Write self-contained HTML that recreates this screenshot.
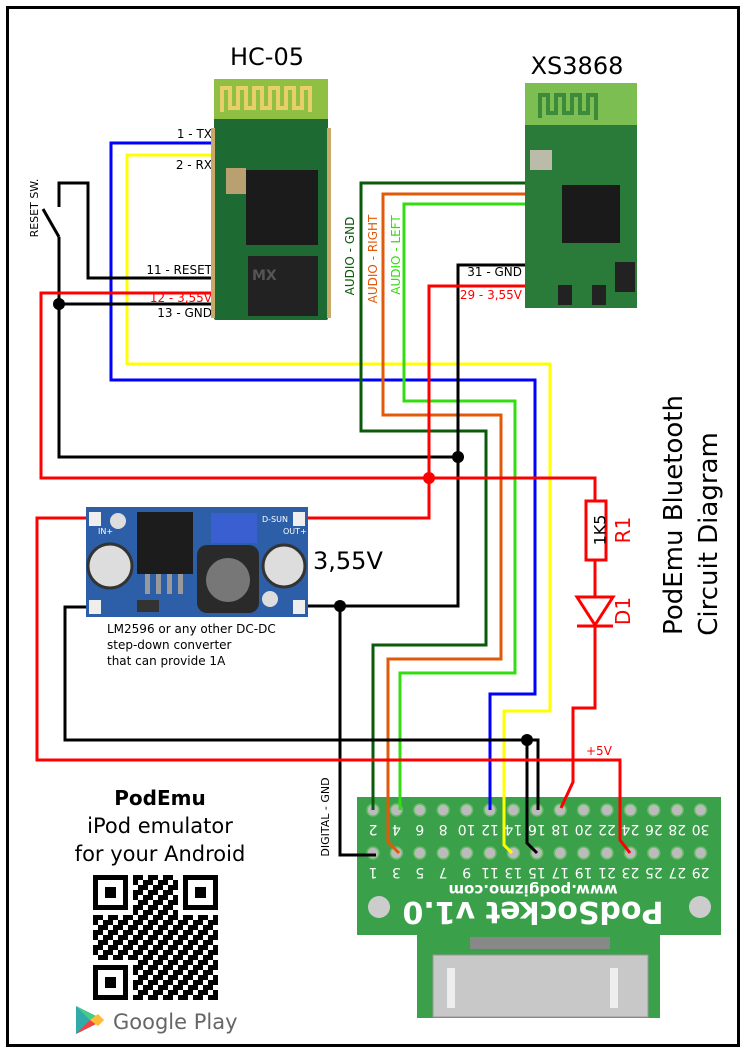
<!DOCTYPE html>
<html><head><meta charset="utf-8"><style>
html,body{margin:0;padding:0;background:#fff}
svg{display:block}
text{font-family:"DejaVu Sans","Liberation Sans",sans-serif}
</style></head><body>
<svg width="744" height="1052" viewBox="0 0 744 1052" xmlns="http://www.w3.org/2000/svg">
<defs>
<pattern id="qr" x="93" y="875" width="15" height="15" patternUnits="userSpaceOnUse">
<rect x="0" y="0" width="5" height="5" fill="#000"/><rect x="10" y="0" width="5" height="10" fill="#000"/>
<rect x="5" y="5" width="5" height="5" fill="#000"/><rect x="0" y="10" width="10" height="5" fill="#000"/>
</pattern>
</defs>
<rect x="7.5" y="7.5" width="731" height="1038" fill="#fff" stroke="#000" stroke-width="3"/>

<text x="267" y="65" font-size="24" text-anchor="middle">HC-05</text>
<text x="577" y="74" font-size="24" text-anchor="middle">XS3868</text>

<g fill="none" stroke-width="3" stroke-linejoin="miter">
<polyline points="214,143 111,143 111,380 535,380 535,694 490,694 490,810" stroke="#0000ff"/>
<polyline points="214,155 127,155 127,364 550,364 550,711 504,711 504,845 512,853" stroke="#ffff00"/>
<polyline points="525,183 361,183 361,431 486,431 486,645 373,645 373,810" stroke="#0a5a0a"/>
<polyline points="525,194 383,194 383,415 501,415 501,659 388,659 388,842 399,853" stroke="#e05a0a"/>
<polyline points="525,204 404,204 404,401 515,401 515,673 400,673 400,810" stroke="#33dd11"/>
<polyline points="59,207 59,183 88,183 88,278 214,278" stroke="#000"/>
<line x1="43" y1="209" x2="59" y2="237" stroke="#000"/>
<polyline points="59,237 59,457 458,457" stroke="#000"/>
<line x1="59" y1="304" x2="214" y2="304" stroke="#000"/>
<polyline points="525,265 458,265 458,606 300,606" stroke="#000"/>
<polyline points="340,606 340,855 376,855" stroke="#000"/>
<polyline points="96,607 65,607 65,740 538,740 538,810" stroke="#000"/>
<polyline points="527,740 527,843 537,853" stroke="#000"/>
<polyline points="214,293 41,293 41,478 595,478 595,501" stroke="#ff0000"/>
<polyline points="525,286 429,286 429,518 300,518" stroke="#ff0000"/>
<polyline points="96,518 37,518 37,760 620,760 620,840 630,853" stroke="#ff0000"/>
<polyline points="595,560 595,597" stroke="#ff0000"/>
<polyline points="595,625 595,708 573,708 573,782 561,808" stroke="#ff0000"/>
<rect x="586" y="501" width="20" height="59" stroke="#ff0000" fill="#fff"/>
<polygon points="577,597 613,597 595,625" stroke="#ff0000" fill="#fff"/>
<line x1="577" y1="626" x2="613" y2="626" stroke="#ff0000"/>
</g>
<g fill="#000"><circle cx="59" cy="304" r="6"/><circle cx="458" cy="457" r="6"/><circle cx="340" cy="606" r="6"/><circle cx="527" cy="740" r="6"/></g>
<circle cx="429" cy="478" r="6" fill="#ff0000"/>
<text transform="translate(601,530) rotate(-90)" font-size="16" text-anchor="middle" dominant-baseline="middle">1K5</text>
<text transform="translate(630,530) rotate(-90)" font-size="20" fill="#ff0000" text-anchor="middle">R1</text>
<text transform="translate(630,611) rotate(-90)" font-size="20" fill="#ff0000" text-anchor="middle">D1</text>
<text x="586" y="755" font-size="12" fill="#ff0000">+5V</text>

<text x="212" y="138" font-size="12" text-anchor="end">1 - TX</text>
<text x="212" y="169" font-size="12" text-anchor="end">2 - RX</text>
<text x="212" y="274" font-size="12" text-anchor="end">11 - RESET</text>
<text x="212" y="302" font-size="12" text-anchor="end" fill="#ff0000">12 - 3,55V</text>
<text x="212" y="317" font-size="12" text-anchor="end">13 - GND</text>
<text transform="translate(38,208) rotate(-90)" font-size="11" text-anchor="middle">RESET SW.</text>
<text x="522" y="276" font-size="12" text-anchor="end">31 - GND</text>
<text x="522" y="299" font-size="12" text-anchor="end" fill="#ff0000">29 - 3,55V</text>
<text transform="translate(354,256) rotate(-90)" font-size="12" text-anchor="middle" fill="#0a5a0a">AUDIO - GND</text>
<text transform="translate(377,259) rotate(-90)" font-size="12" text-anchor="middle" fill="#e05a0a">AUDIO - RIGHT</text>
<text transform="translate(400,255) rotate(-90)" font-size="12" text-anchor="middle" fill="#33dd11">AUDIO - LEFT</text>
<text transform="translate(329,817) rotate(-90)" font-size="11" text-anchor="middle">DIGITAL - GND</text>
<text x="313" y="569" font-size="24">3,55V</text>
<text x="107" y="633" font-size="12">LM2596 or any other DC-DC</text>
<text x="107" y="649" font-size="12">step-down converter</text>
<text x="107" y="665" font-size="12">that can provide 1A</text>
<text transform="translate(682,515) rotate(-90)" font-size="26" text-anchor="middle">PodEmu Bluetooth</text>
<text transform="translate(717,534) rotate(-90)" font-size="26" text-anchor="middle">Circuit Diagram</text>

<rect x="214" y="79" width="114" height="241" fill="#1d6a33" rx="2"/>
<rect x="214" y="79" width="114" height="40" fill="#8fc043"/>
<path d="M222,112 V88 h8 v20 h8 V88 h8 v20 h8 V88 h8 v20 h8 V88 h8 v20 h8 V88 h8 v20 h8 V88 h8 v24" fill="none" stroke="#e8cf6a" stroke-width="4"/>
<rect x="246" y="170" width="72" height="75" fill="#1b1b1b"/>
<rect x="248" y="256" width="70" height="60" fill="#222"/>
<text x="252" y="280" font-size="14" font-weight="bold" fill="#555">MX</text>
<rect x="226" y="168" width="20" height="26" fill="#b8a070"/>
<g fill="#c9a96a"><rect x="211" y="128" width="4" height="190"/><rect x="327" y="128" width="4" height="190"/></g>
<rect x="525" y="83" width="112" height="225" fill="#2a7a3a"/>
<rect x="525" y="83" width="112" height="42" fill="#7cbe52"/>
<path d="M540,118 V95 h8 v18 h8 V95 h8 v18 h8 V95 h8 v18 h8 V95 h8 v25" fill="none" stroke="#3d8a3a" stroke-width="4"/>
<rect x="562" y="185" width="58" height="58" fill="#1a1a1a"/>
<rect x="530" y="150" width="22" height="20" fill="#bba"/>
<rect x="615" y="262" width="20" height="30" fill="#222"/>
<rect x="558" y="285" width="14" height="20" fill="#222"/>
<rect x="592" y="285" width="14" height="20" fill="#222"/>

<rect x="86" y="507" width="222" height="110" fill="#2d5ea8"/>
<rect x="89" y="512" width="12" height="14" fill="#eee"/><rect x="293" y="512" width="12" height="14" fill="#eee"/>
<rect x="89" y="600" width="12" height="14" fill="#eee"/><rect x="293" y="600" width="12" height="14" fill="#eee"/>
<circle cx="118" cy="521" r="8" fill="#ddd"/><circle cx="270" cy="599" r="8" fill="#ddd"/>
<rect x="137" y="512" width="56" height="62" fill="#1c1c1c"/>
<g fill="#999"><rect x="145" y="574" width="5" height="20"/><rect x="156" y="574" width="5" height="20"/><rect x="167" y="574" width="5" height="20"/><rect x="178" y="574" width="5" height="20"/></g>
<rect x="211" y="513" width="46" height="30" fill="#3a5fd0"/>
<rect x="197" y="545" width="62" height="68" rx="10" fill="#2a2a2a"/>
<circle cx="228" cy="580" r="22" fill="#777"/>
<circle cx="110" cy="566" r="22" fill="#ddd" stroke="#333" stroke-width="3"/>
<circle cx="284" cy="566" r="21" fill="#ddd" stroke="#333" stroke-width="3"/>
<rect x="137" y="600" width="22" height="12" fill="#333"/>
<text x="98" y="534" font-size="8" fill="#fff">IN+</text>
<text x="262" y="522" font-size="8" fill="#fff">D-SUN</text>
<text x="283" y="534" font-size="8" fill="#fff">OUT+</text>

<rect x="417" y="930" width="243" height="88" fill="#3aa04a"/>
<rect x="357" y="797" width="364" height="138" fill="#3aa04a"/>
<rect x="470" y="937" width="140" height="12" fill="#888"/>
<rect x="433" y="955" width="215" height="62" fill="#c8c8c8" stroke="#999"/>
<rect x="447" y="968" width="8" height="40" fill="#eee"/><rect x="610" y="968" width="8" height="40" fill="#eee"/>
<circle cx="379" cy="907" r="11" fill="#ccc"/><circle cx="700" cy="907" r="11" fill="#ccc"/>
<g fill="#bbb" stroke="#6b6" stroke-width="1.5">
<circle cx="373" cy="810" r="6"/><circle cx="396.4" cy="810" r="6"/><circle cx="419.8" cy="810" r="6"/><circle cx="443.2" cy="810" r="6"/><circle cx="466.6" cy="810" r="6"/><circle cx="490" cy="810" r="6"/><circle cx="513.4" cy="810" r="6"/><circle cx="536.8" cy="810" r="6"/><circle cx="560.2" cy="810" r="6"/><circle cx="583.6" cy="810" r="6"/><circle cx="607" cy="810" r="6"/><circle cx="630.4" cy="810" r="6"/><circle cx="653.8" cy="810" r="6"/><circle cx="677.2" cy="810" r="6"/><circle cx="700.6" cy="810" r="6"/>
<circle cx="373" cy="853" r="6"/><circle cx="396.4" cy="853" r="6"/><circle cx="419.8" cy="853" r="6"/><circle cx="443.2" cy="853" r="6"/><circle cx="466.6" cy="853" r="6"/><circle cx="490" cy="853" r="6"/><circle cx="513.4" cy="853" r="6"/><circle cx="536.8" cy="853" r="6"/><circle cx="560.2" cy="853" r="6"/><circle cx="583.6" cy="853" r="6"/><circle cx="607" cy="853" r="6"/><circle cx="630.4" cy="853" r="6"/><circle cx="653.8" cy="853" r="6"/><circle cx="677.2" cy="853" r="6"/><circle cx="700.6" cy="853" r="6"/>
</g>
<g font-size="14" fill="#fff" text-anchor="middle">
<text transform="rotate(180 373 830)" x="373" y="835">2</text><text transform="rotate(180 396.4 830)" x="396.4" y="835">4</text><text transform="rotate(180 419.8 830)" x="419.8" y="835">6</text><text transform="rotate(180 443.2 830)" x="443.2" y="835">8</text><text transform="rotate(180 466.6 830)" x="466.6" y="835">10</text><text transform="rotate(180 490 830)" x="490" y="835">12</text><text transform="rotate(180 513.4 830)" x="513.4" y="835">14</text><text transform="rotate(180 536.8 830)" x="536.8" y="835">16</text><text transform="rotate(180 560.2 830)" x="560.2" y="835">18</text><text transform="rotate(180 583.6 830)" x="583.6" y="835">20</text><text transform="rotate(180 607 830)" x="607" y="835">22</text><text transform="rotate(180 630.4 830)" x="630.4" y="835">24</text><text transform="rotate(180 653.8 830)" x="653.8" y="835">26</text><text transform="rotate(180 677.2 830)" x="677.2" y="835">28</text><text transform="rotate(180 700.6 830)" x="700.6" y="835">30</text>
<text transform="rotate(180 373 873)" x="373" y="878">1</text><text transform="rotate(180 396.4 873)" x="396.4" y="878">3</text><text transform="rotate(180 419.8 873)" x="419.8" y="878">5</text><text transform="rotate(180 443.2 873)" x="443.2" y="878">7</text><text transform="rotate(180 466.6 873)" x="466.6" y="878">9</text><text transform="rotate(180 490 873)" x="490" y="878">11</text><text transform="rotate(180 513.4 873)" x="513.4" y="878">13</text><text transform="rotate(180 536.8 873)" x="536.8" y="878">15</text><text transform="rotate(180 560.2 873)" x="560.2" y="878">17</text><text transform="rotate(180 583.6 873)" x="583.6" y="878">19</text><text transform="rotate(180 607 873)" x="607" y="878">21</text><text transform="rotate(180 630.4 873)" x="630.4" y="878">23</text><text transform="rotate(180 653.8 873)" x="653.8" y="878">25</text><text transform="rotate(180 677.2 873)" x="677.2" y="878">27</text><text transform="rotate(180 700.6 873)" x="700.6" y="878">29</text>
<text transform="rotate(180 533 891)" x="533" y="897" font-size="15" font-weight="bold">www.podgizmo.com</text>
<text transform="rotate(180 533 912)" x="533" y="922" font-size="30" font-weight="bold">PodSocket v1.0</text>
</g>
<g fill="none" stroke-width="3">
<line x1="373" y1="797" x2="373" y2="810" stroke="#0a5a0a"/>
<line x1="400" y1="797" x2="400" y2="810" stroke="#33dd11"/>
<polyline points="388,797 388,842 399,853" stroke="#e05a0a"/>
<line x1="490" y1="797" x2="490" y2="810" stroke="#0000ff"/>
<polyline points="504,797 504,845 512,853" stroke="#ffff00"/>
<polyline points="527,797 527,843 537,853" stroke="#000"/>
<line x1="538" y1="797" x2="538" y2="810" stroke="#000"/>
<polyline points="566,797 561,808" stroke="#ff0000"/>
<polyline points="620,797 620,840 630,853" stroke="#ff0000"/>
<polyline points="357,855 376,855" stroke="#000"/>
</g>

<text x="160" y="805" font-size="20" font-weight="bold" text-anchor="middle">PodEmu</text>
<text x="160" y="833" font-size="21" text-anchor="middle">iPod emulator</text>
<text x="160" y="861" font-size="21" text-anchor="middle">for your Android</text>
<rect x="93" y="875" width="125" height="125" fill="url(#qr)"/>
<g fill="#fff"><rect x="93" y="875" width="40" height="40"/><rect x="178" y="875" width="40" height="40"/><rect x="93" y="960" width="40" height="40"/></g>
<g fill="none" stroke="#000" stroke-width="5"><rect x="95.5" y="877.5" width="30" height="30"/><rect x="185.5" y="877.5" width="30" height="30"/><rect x="95.5" y="967.5" width="30" height="30"/></g>
<g fill="#000"><rect x="105" y="887" width="11" height="11"/><rect x="195" y="887" width="11" height="11"/><rect x="105" y="977" width="11" height="11"/></g>
<polygon points="76,1006 76,1034 104,1020" fill="#3aa"/>
<polygon points="76,1006 90,1020 104,1020" fill="#4c8"/>
<polygon points="76,1034 90,1020 104,1020" fill="#e44"/>
<polygon points="90,1020 98,1014 104,1020 98,1026" fill="#fb3"/>
<text x="113" y="1029" font-size="21" fill="#666">Google Play</text>
</svg>
</body></html>
